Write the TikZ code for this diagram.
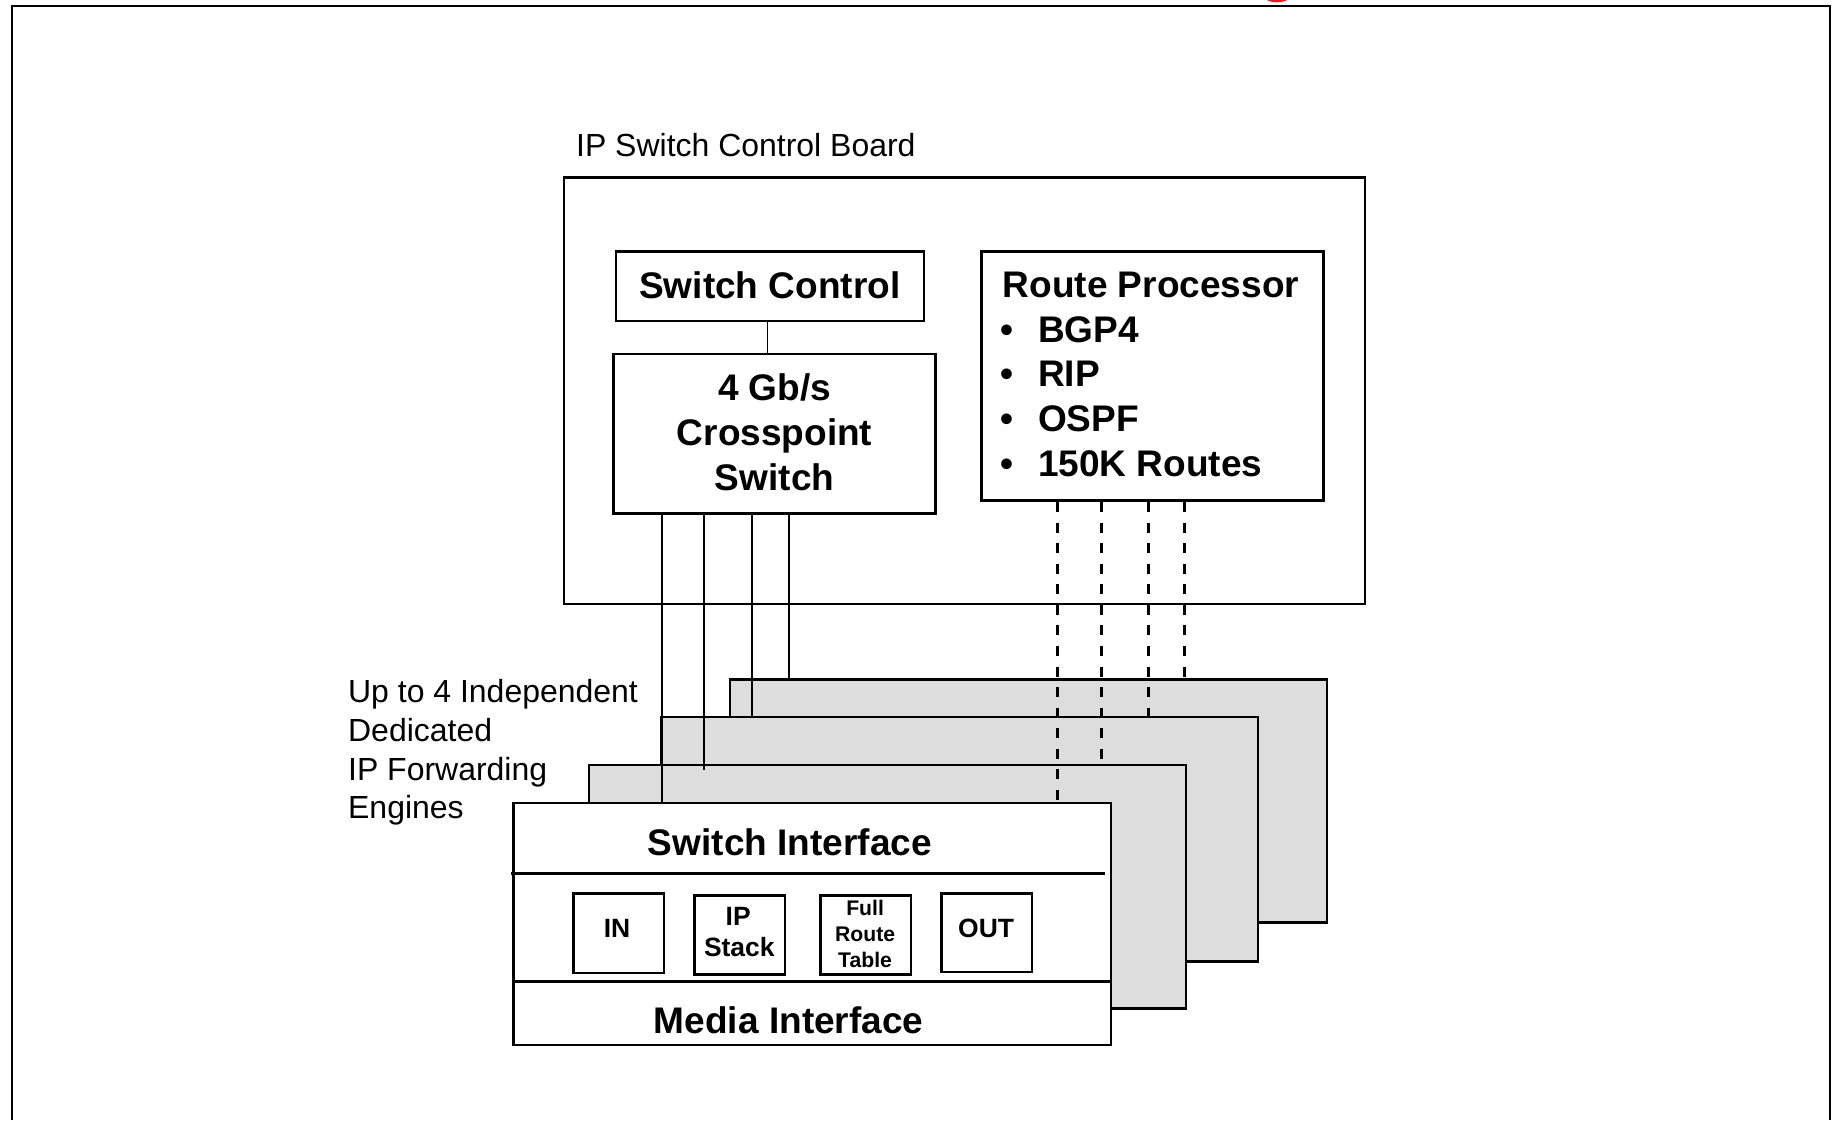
\documentclass[tikz,border=0pt]{standalone}
\usepackage{fontspec}
\setmainfont{Liberation Sans}
\definecolor{cardgray}{RGB}{221,221,221}
\definecolor{titlered}{RGB}{226,28,36}
\newcommand\fntBox{\fontsize{31.5}{38}\selectfont\bfseries}
\newcommand\fntMid{\fontsize{22.5}{27}\selectfont\bfseries}
\newcommand\fntSmall{\fontsize{18}{22}\selectfont\bfseries}
\newcommand\fntLbl{\fontsize{27.2}{33}\selectfont}
\begin{document}
\begin{tikzpicture}[x=1pt,y=-1pt,
  box/.style={draw=black,line width=2.1pt,fill=white,inner sep=0pt,
    minimum width=#1},
  card/.style={draw=black,line width=2.1pt,fill=cardgray,inner sep=0pt,
    minimum width=508},
  txt/.style={inner sep=0pt,anchor=base},
  txtw/.style={inner sep=0pt,anchor=base west},
  wire/.style={line width=1.6pt},
  bus/.style={line width=2.5pt,dash pattern=on 8.5pt off 9pt},
  frame/.style={line width=1.9pt}]
\useasboundingbox (0,0) rectangle (1568,953);

% outer frame, open at the bottom
\draw[frame] (10,953) -- (10,5) -- (1557,5) -- (1557,953);
% tail of the red heading glyph above the frame
\fill[titlered] (1078,0) .. controls (1082,2.6) and (1091,2.6) .. (1095,0) -- cycle;

% control board
\node[txtw,font=\fntLbl] (boardlbl) at (490,133) {IP Switch Control Board};
\node[box=681,minimum height=363,line width=1.8pt] (board) at (820.5,332.5) {};
\node[box=262,minimum height=59] (sc) at (655,243.5) {};
\node[box=274,minimum height=136] (xp) at (659,369) {};
\node[box=291,minimum height=212] (rp) at (980.5,320) {};
\draw[wire] (sc.south -| 653,0) -- (xp.north -| 653,0);

\node[txt,font=\fntBox] (sctxt) at (655,254) {Switch Control};
\node[txt,font=\fntBox] (xp1) at (659,341) {4 Gb/s};
\node[txt,font=\fntBox] (xp2) at (659,379) {Crosspoint};
\node[txt,font=\fntBox] (xp3) at (659,417) {Switch};

\node[txtw,font=\fntBox] (rptitle) at (853,253) {Route Processor};
\foreach \y/\t [count=\i] in {291/BGP4,329/RIP,367/OSPF,405/150K Routes}{
  \node[txtw,font=\fntBox] (bul\i) at (851,\y) {•};
  \node[txtw,font=\fntBox] (item\i) at (883,\y) {\t};
}

% forwarding engines, back to front
\node[card] (c4) at (875,681.5) [minimum height=207] {};
\node[card] (c3) at (816.5,714) [minimum height=208] {};
\node[card] (c2) at (755,754.5) [minimum height=207] {};
\node[box=508,minimum height=206] (c1) at (691,786) {};

\draw[line width=2.1pt] (435,743) -- (940,743);
\draw[line width=2.1pt] (c1.west |- 0,835) -- (c1.east |- 0,835);

\node[txt,font=\fntBox] (si) at (672,728) {Switch Interface};
\node[txt,font=\fntBox] (mi) at (671,879) {Media Interface};

\node[box=77,minimum height=68] (in) at (526.5,794) {};
\node[box=77,minimum height=67] (ips) at (629.5,795.5) {};
\node[box=77,minimum height=67] (frt) at (736.5,795.5) {};
\node[box=77,minimum height=67] (out) at (839.5,793.5) {};
\node[txt,font=\fntMid] (intxt) at (525,798) {IN};
\node[txt,font=\fntMid] (outtxt) at (839,798) {OUT};
\node[txt,font=\fntMid] (ips1) at (628,787) {IP};
\node[txt,font=\fntMid] (ips2) at (629,814) {Stack};
\node[txt,font=\fntSmall] (frt1) at (736,779) {Full};
\node[txt,font=\fntSmall] (frt2) at (736,801) {Route};
\node[txt,font=\fntSmall] (frt3) at (736,823) {Table};

\node[txtw,font=\fntLbl] (eng1) at (296,598) {Up to 4 Independent};
\node[txtw,font=\fntLbl] (eng2) at (296,631) {Dedicated};
\node[txtw,font=\fntLbl] (eng3) at (296,664) {IP Forwarding};
\node[txtw,font=\fntLbl] (eng4) at (296,696) {Engines};

% switch links from the crosspoint switch to each engine
\draw[wire] (xp.south -| 563,0) -- (c1.north -| 563,0);
\draw[wire] (xp.south -| 599,0) -- (599,655);
\draw[wire] (xp.south -| 640,0) -- (c3.north -| 640,0);
\draw[wire] (xp.south -| 671,0) -- (c4.north -| 671,0);

% route distribution from the route processor
\draw[bus] (rp.south -| 900,0) -- (c1.north -| 900,0);
\draw[bus] (rp.south -| 937,0) -- (937,647);
\draw[bus] (rp.south -| 977,0) -- (c3.north -| 977,0);
\draw[bus] (rp.south -| 1008,0) -- (c4.north -| 1008,0);
\end{tikzpicture}
\end{document}
